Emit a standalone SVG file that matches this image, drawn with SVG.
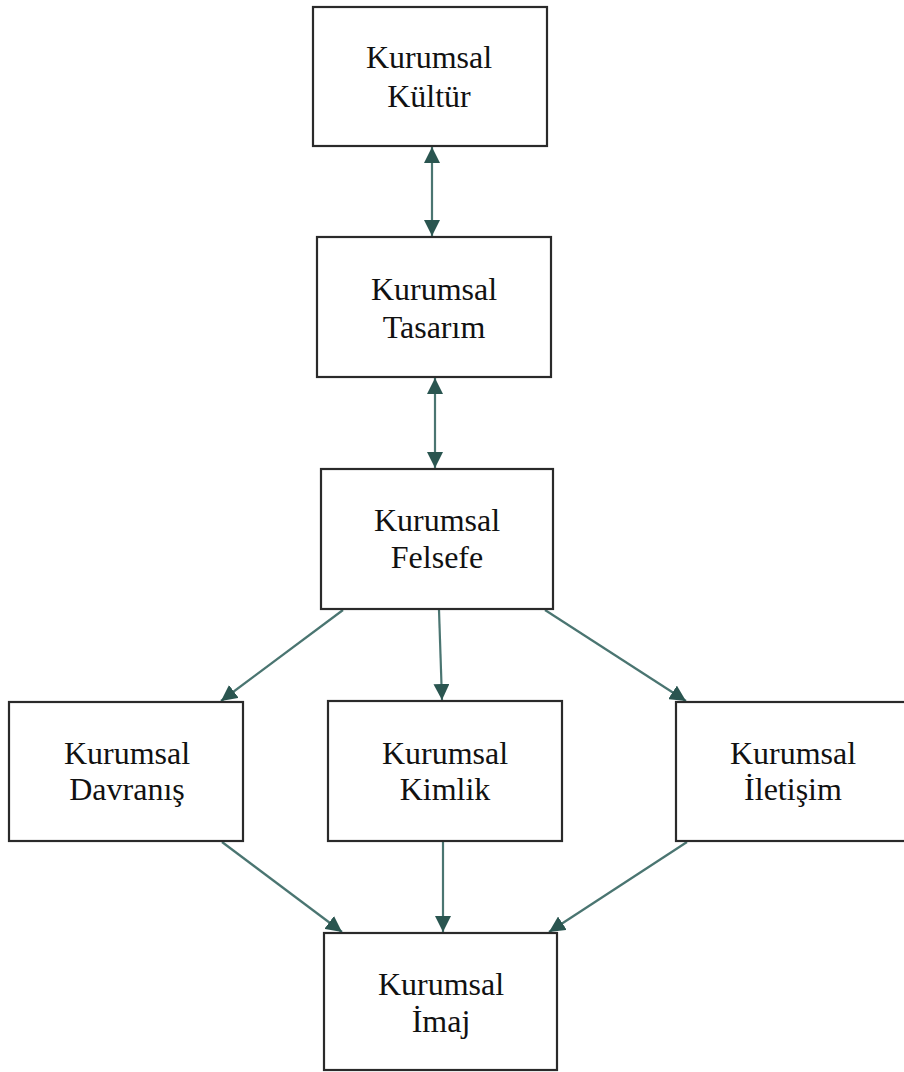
<svg xmlns="http://www.w3.org/2000/svg" width="904" height="1072" viewBox="0 0 904 1072">
<defs>
<style>
.box{fill:#fff;stroke:#2a2a2a;stroke-width:2.2}
.lbl{font-family:"Liberation Serif","Times New Roman",serif;font-size:32px;fill:#111;text-anchor:middle}
.con{stroke:#4a7571;stroke-width:2.2;fill:none}
</style>
<marker id="ah" viewBox="0 0 10 10" refX="10" refY="5" markerUnits="userSpaceOnUse" markerWidth="16" markerHeight="16" orient="auto-start-reverse">
<path d="M0,0 L10,5 L0,10 z" fill="#2a5550"/>
</marker>
</defs>
<rect width="904" height="1072" fill="#fff"/>
<g id="connectors">
<line class="con" x1="432" y1="147" x2="432" y2="236" marker-start="url(#ah)" marker-end="url(#ah)"/>
<line class="con" x1="435" y1="378" x2="435" y2="468" marker-start="url(#ah)" marker-end="url(#ah)"/>
<line class="con" x1="343" y1="610" x2="221" y2="701" marker-end="url(#ah)"/>
<line class="con" x1="439" y1="610" x2="442" y2="700" marker-end="url(#ah)"/>
<line class="con" x1="545" y1="610" x2="686" y2="701" marker-end="url(#ah)"/>
<line class="con" x1="222" y1="842" x2="342" y2="932" marker-end="url(#ah)"/>
<line class="con" x1="443" y1="842" x2="443" y2="932" marker-end="url(#ah)"/>
<line class="con" x1="687" y1="842" x2="549" y2="932" marker-end="url(#ah)"/>
</g>
<g id="kultur">
<rect class="box" x="313" y="7" width="234" height="139"/>
<text class="lbl" x="429" y="68">Kurumsal</text>
<text class="lbl" x="429" y="107">Kültür</text>
</g>
<g id="tasarim">
<rect class="box" x="317" y="237" width="234" height="140"/>
<text class="lbl" x="434" y="300">Kurumsal</text>
<text class="lbl" x="434" y="338">Tasarım</text>
</g>
<g id="felsefe">
<rect class="box" x="321" y="469" width="232" height="140"/>
<text class="lbl" x="437" y="531">Kurumsal</text>
<text class="lbl" x="437" y="568">Felsefe</text>
</g>
<g id="davranis">
<rect class="box" x="9" y="702" width="234" height="139"/>
<text class="lbl" x="127" y="764">Kurumsal</text>
<text class="lbl" x="127" y="800">Davranış</text>
</g>
<g id="kimlik">
<rect class="box" x="328" y="701" width="234" height="140"/>
<text class="lbl" x="445" y="764">Kurumsal</text>
<text class="lbl" x="445" y="800">Kimlik</text>
</g>
<g id="iletisim">
<rect class="box" x="676" y="702" width="236" height="139"/>
<text class="lbl" x="793" y="764">Kurumsal</text>
<text class="lbl" x="793" y="800">İletişim</text>
</g>
<g id="imaj">
<rect class="box" x="324" y="933" width="233" height="137"/>
<text class="lbl" x="441" y="995">Kurumsal</text>
<text class="lbl" x="441" y="1032">İmaj</text>
</g>
</svg>
